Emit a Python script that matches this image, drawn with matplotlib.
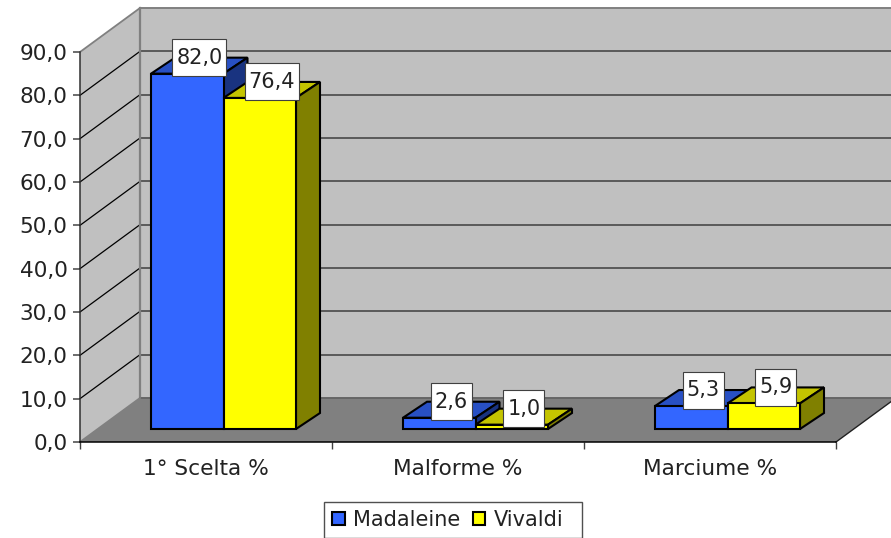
import matplotlib
matplotlib.use("Agg")
import matplotlib.pyplot as plt
import numpy as np
from matplotlib.patches import Rectangle

categories = ["1° Scelta %", "Malforme %", "Marciume %"]
madaleine = [82.0, 2.6, 5.3]
vivaldi = [76.4, 1.0, 5.9]
y_ticks = [0, 10, 20, 30, 40, 50, 60, 70, 80, 90]

FONT = "DejaVu Sans"
FS_VAL = 15
FS_AXIS = 15.6
FS_LEG = 15
TXT = "#222222"
plt.rcParams["font.family"] = FONT

W, H = 891, 538
L, R, B, T = 80, 836, 442, 52
fig = plt.figure(figsize=(W / 100, H / 100), dpi=100)
ax = fig.add_axes([L / W, 1 - B / H, (R - L) / W, (B - T) / H])
ax.set_xlim(0, 3)
ax.set_ylim(0, 90)
ax.patch.set_alpha(0)

pxx = 3 / (R - L)
pxy = 90 / (B - T)
DX, DY = 60 * pxx, 44 * pxy      # wall depth
dx, dy = 24 * pxx, 16 * pxy      # bar depth
base = 13 * pxy                  # bars float above the front edge
bar_w = 72.5 * pxx
shift = 143.5 / 252


def poly(xs, ys, fc, ec="none", lw=0, z=1):
    ax.fill(xs, ys, facecolor=fc, edgecolor=ec, linewidth=lw, zorder=z,
            clip_on=False, joinstyle="miter")


# walls and floor
top = 90
poly([0, DX, DX, 0], [0, DY, top + DY, top], "#C0C0C0", z=1)
poly([DX, 3 + DX, 3 + DX, DX], [DY, DY, top + DY, top + DY], "#C0C0C0", z=1)
poly([0, 3, 3 + DX, DX], [0, 0, DY, DY], "#808080", z=2)

# gridlines and wall edges
for v in y_ticks[1:-1]:
    ax.plot([0, DX], [v, v + DY], color="black", lw=0.9, zorder=3, clip_on=False)
    ax.plot([DX, 3 + DX], [v + DY, v + DY], color="#5A5A5A", lw=1.4, zorder=3, clip_on=False)
ax.plot([DX, DX], [DY, top + DY], color="#808080", lw=1.6, zorder=3, clip_on=False)
ax.plot([DX, 3 + DX], [top + DY] * 2, color="#808080", lw=1.4, zorder=3, clip_on=False)
ax.plot([DX, 3 + DX], [DY, DY], color="#666666", lw=1.4, zorder=3, clip_on=False)
ax.plot([0, DX], [top, top + DY], color="#808080", lw=1.3, zorder=3, clip_on=False)
ax.plot([0, DX], [0, DY], color="#808080", lw=1.3, zorder=3, clip_on=False)
ax.plot([3, 3 + DX], [0, DY], color="#202020", lw=1.0, zorder=3, clip_on=False)

series = [
    ("Madaleine", madaleine, -0.5, "#3366FF", "#2850C4", "#193380"),
    ("Vivaldi", vivaldi, 0.5, "#FFFF00", "#C4C400", "#808000"),
]
x = np.arange(3) + shift
z = 5
EW = 1.5
for name, vals, off, c_front, c_top, c_side in series:
    xs = x + off * bar_w
    ax.bar(xs, vals, bar_w, bottom=base, color=c_front, edgecolor="black",
           linewidth=EW, label=name, zorder=z + 2, clip_on=False)
    for xc, v in zip(xs, vals):
        l, r = xc - bar_w / 2, xc + bar_w / 2
        y0, y1 = base, base + v
        poly([l, r, r + dx, l + dx], [y1, y1, y1 + dy, y1 + dy], c_top, "black", EW, z)
        poly([r, r + dx, r + dx, r], [y0, y0 + dy, y1 + dy, y1], c_side, "black", EW, z)
        # value label
        cx, cy = xc + 12 * pxx, y1 + 16 * pxy
        txt = f"{v:.1f}".replace(".", ",")
        bw = (54 if len(txt) > 3 else 41) * pxx
        bh = 37 * pxy
        ax.add_patch(Rectangle((cx - bw / 2, cy - bh / 2), bw, bh, facecolor="white",
                               edgecolor="#404040", linewidth=0.8, zorder=20, clip_on=False))
        ax.text(cx, cy, txt, ha="center", va="center", fontsize=FS_VAL, color=TXT,
                zorder=21, clip_on=False)
    z += 3

# axes
for s in ("top", "right"):
    ax.spines[s].set_visible(False)
ax.spines["left"].set_color("#303030")
ax.spines["left"].set_linewidth(1.1)
ax.spines["bottom"].set_color("black")
ax.spines["bottom"].set_linewidth(1.1)
ax.spines["left"].set_zorder(4)
ax.spines["bottom"].set_zorder(4)
ax.set_yticks(y_ticks)
ax.set_yticklabels([f"{v:.1f}".replace(".", ",") for v in y_ticks], fontsize=FS_AXIS, color=TXT)
ax.set_xticks([0, 1, 2, 3])
ax.set_xticklabels([])
ax.set_xticks([0.5, 1.5, 2.5], minor=True)
ax.set_xticklabels(categories, minor=True, fontsize=FS_AXIS, color=TXT)
ax.tick_params(axis="y", length=5, width=1.3, color="#606060", pad=4)
ax.tick_params(axis="x", which="major", length=5, width=1.0, color="#404040")
ax.tick_params(axis="x", which="minor", length=0, pad=12)

# legend frame, then the legend itself without its own frame
fig.add_artist(Rectangle((324 / W, 1 - 537.5 / H), 258 / W, 35.5 / H, transform=fig.transFigure,
                         facecolor="white", edgecolor="#505050", linewidth=1.0))
leg = fig.legend(loc="center left", bbox_to_anchor=(324 / W, 1 - 520 / H), ncol=2,
                 fontsize=FS_LEG, frameon=False, labelcolor=TXT,
                 handlelength=0.62, handleheight=0.62, handletextpad=0.4,
                 columnspacing=0.58, borderpad=0.38, borderaxespad=0)

fig.savefig("out.png", dpi=100)
